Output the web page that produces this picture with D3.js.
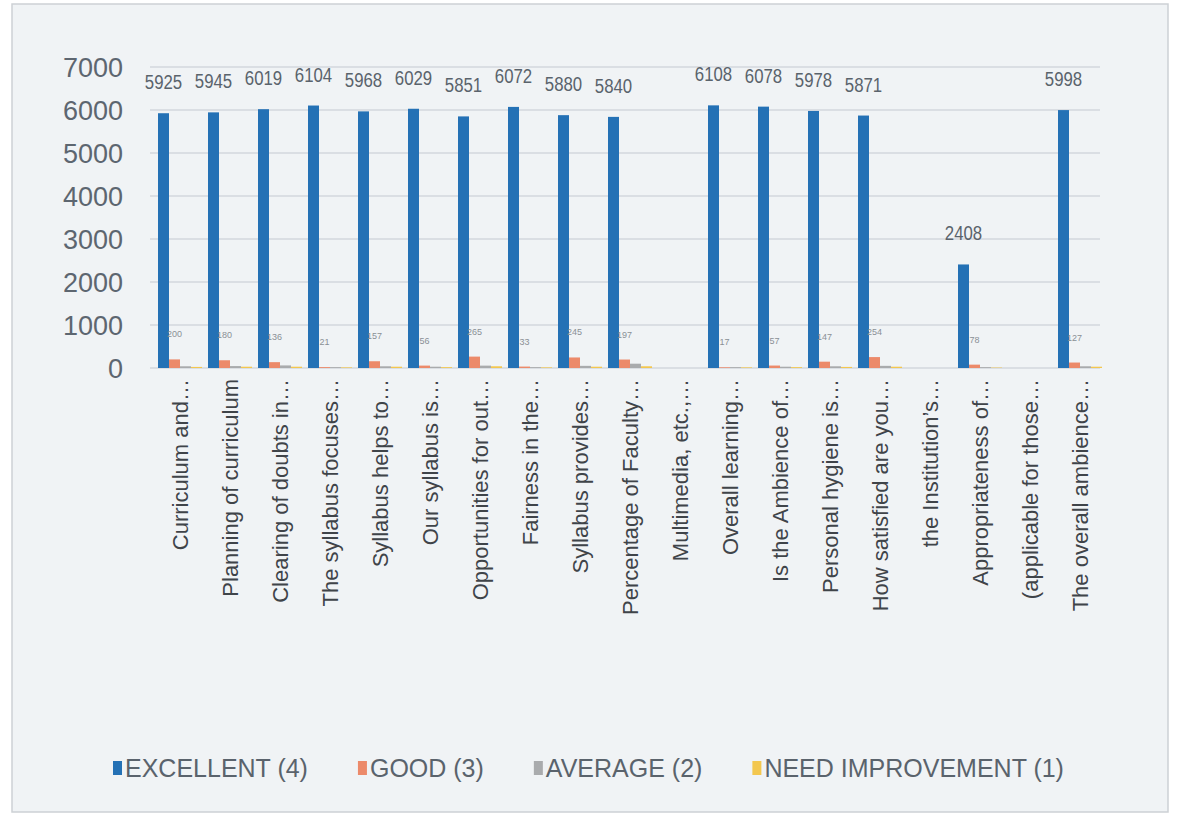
<!DOCTYPE html>
<html>
<head>
<meta charset="utf-8">
<script src="https://cdn.jsdelivr.net/npm/d3@7"></script>
<style>
  html, body { margin: 0; padding: 0; background: #ffffff; }
  svg { display: block; }
</style>
</head>
<body>
<svg id="chart" width="1180" height="819"></svg>
<script>
// ---- data ----
const categories = [
  "Curriculum and\u2026",
  "Planning of curriculum",
  "Clearing of doubts in\u2026",
  "The syllabus focuses\u2026",
  "Syllabus helps to\u2026",
  "Our syllabus is\u2026",
  "Opportunities for out\u2026",
  "Fairness in the\u2026",
  "Syllabus provides\u2026",
  "Percentage of Faculty\u2026",
  "Multimedia, etc.,\u2026",
  "Overall learning\u2026",
  "Is the Ambience of\u2026",
  "Personal hygiene is\u2026",
  "How satisfied are you\u2026",
  "the Institution\u2019s\u2026",
  "Appropriateness of\u2026",
  "(applicable for those\u2026",
  "The overall ambience\u2026"
];
const excellent = [5925, 5945, 6019, 6104, 5968, 6029, 5851, 6072, 5880, 5840, null, 6108, 6078, 5978, 5871, null, 2408, null, 5998];
const good      = [200, 180, 136, 21, 157, 56, 265, 33, 245, 197, null, 17, 57, 147, 254, null, 78, null, 127];
const average   = [40, 45, 60, 20, 40, 30, 55, 20, 50, 100, null, 20, 30, 40, 50, null, 20, null, 40];
const needImpr  = [25, 30, 30, 15, 30, 20, 40, 15, 30, 40, null, 15, 20, 25, 30, null, 10, null, 30];
const seriesNames = ["EXCELLENT (4)", "GOOD (3)", "AVERAGE (2)", "NEED IMPROVEMENT (1)"];
const yTicks = [0, 1000, 2000, 3000, 4000, 5000, 6000, 7000];

// ---- styles ----
const colors = ["#2471b5", "#ec8a6a", "#a9abad", "#f3c74f"];
const seriesData = [excellent, good, average, needImpr];

const svg = d3.select("#chart");
svg.append("rect").attr("x", 12).attr("y", 4).attr("width", 1156).attr("height", 808)
  .attr("fill", "#f0f3f5").attr("stroke", "#cdd1d5").attr("stroke-width", 1.5);

const x = d3.scaleBand().domain(categories).range([155, 1105]).paddingInner(0).paddingOuter(0);
const bw = 11;
const x1 = d3.scaleBand().domain(d3.range(4)).range([-2 * bw, 2 * bw]);
const y = d3.scaleLinear().domain([0, 7000]).range([368, 67]);

// grid
svg.append("g").selectAll("line").data(yTicks).join("line")
  .attr("x1", 150).attr("x2", 1100)
  .attr("y1", d => y(d)).attr("y2", d => y(d))
  .attr("stroke", "#d3d7dc").attr("stroke-width", 1.4);

// y axis labels
const yAxis = d3.axisLeft(y).tickValues(yTicks).tickSize(0).tickPadding(0).tickFormat(d3.format("d"));
const gy = svg.append("g").attr("transform", "translate(123,0)").call(yAxis);
gy.select(".domain").remove();
gy.selectAll("text").attr("font-family", "Liberation Sans, Arial, sans-serif")
  .attr("font-size", 27).attr("fill", "#5d6670").attr("dy", "0.36em");

// bars
const groups = svg.append("g").selectAll("g").data(categories).join("g")
  .attr("transform", d => `translate(${x(d) + x.bandwidth() / 2},0)`);

seriesData.forEach((arr, si) => {
  groups.filter((d, i) => arr[i] != null)
    .append("rect")
    .attr("x", x1(si))
    .attr("width", x1.bandwidth())
    .attr("y", (d) => y(arr[categories.indexOf(d)]))
    .attr("height", (d) => y(0) - y(arr[categories.indexOf(d)]))
    .attr("fill", colors[si]);
});

// excellent labels (condensed)
groups.filter((d, i) => excellent[i] != null).append("text")
  .attr("transform", d => `translate(${x1(0) + x1.bandwidth() / 2},${y(excellent[categories.indexOf(d)]) - 24}) scale(0.8,1)`)
  .attr("text-anchor", "middle")
  .attr("font-family", "Liberation Sans, Arial, sans-serif")
  .attr("font-size", 21).attr("fill", "#5a636c")
  .text(d => excellent[categories.indexOf(d)]);

// good labels (tiny)
groups.filter((d, i) => good[i] != null).append("text")
  .attr("x", x1(1) + x1.bandwidth() / 2)
  .attr("y", d => y(good[categories.indexOf(d)]) - 22)
  .attr("text-anchor", "middle")
  .attr("font-family", "Liberation Sans, Arial, sans-serif")
  .attr("font-size", 9).attr("fill", "#8a9096")
  .text(d => good[categories.indexOf(d)]);

// category labels
const xAxis = d3.axisBottom(x).tickSize(0).tickPadding(0);
const gx = svg.append("g").attr("transform", `translate(0,${y(0) + 11})`).call(xAxis);
gx.select(".domain").remove();
gx.selectAll("text")
  .attr("font-family", "Liberation Sans, Arial, sans-serif")
  .attr("font-size", 22).attr("fill", "#3f4449")
  .attr("transform", "rotate(-90)")
  .attr("text-anchor", "end")
  .attr("x", 0).attr("y", 0).attr("dy", "0.35em");

// legend
const legend = svg.append("g").attr("transform", "translate(113,768)");
let lx = 0;
seriesNames.forEach((name, i) => {
  const g = legend.append("g").attr("transform", `translate(${lx},0)`);
  g.append("rect").attr("x", 0).attr("y", -7).attr("width", 9).attr("height", 14).attr("fill", colors[i]);
  const t = g.append("text").attr("x", 12).attr("dy", "0.36em")
    .attr("font-family", "Liberation Sans, Arial, sans-serif")
    .attr("font-size", 25).attr("fill", "#5a636c").text(name);
  lx += 12 + t.node().getComputedTextLength() + 50;
});
</script>
</body>
</html>
